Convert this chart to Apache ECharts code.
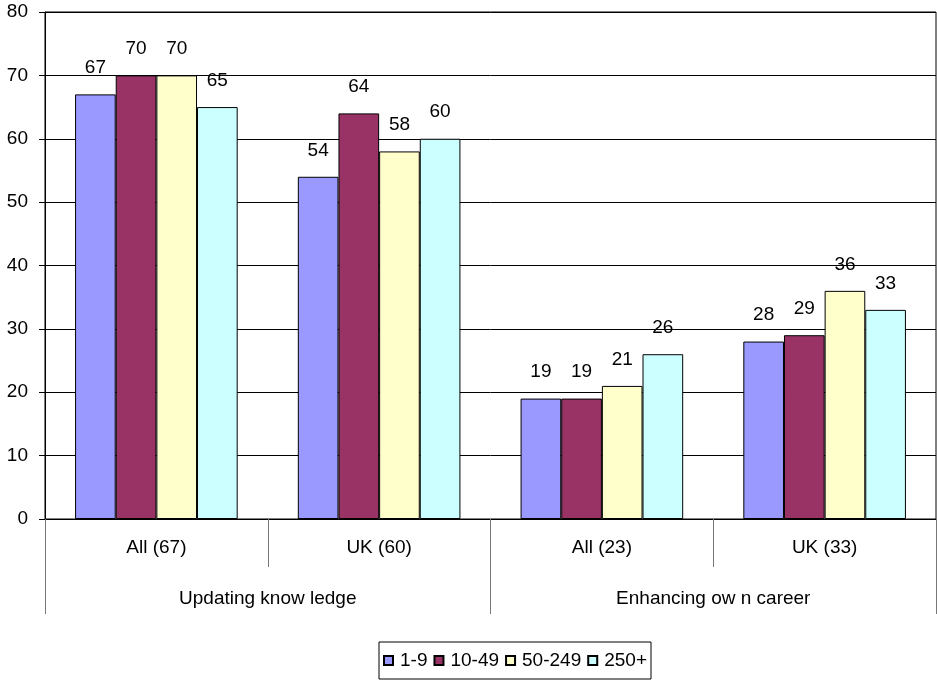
<!DOCTYPE html>
<html>
<head>
<meta charset="utf-8">
<script src="https://cdn.jsdelivr.net/npm/echarts@6/dist/echarts.min.js"></script>
<style>
html,body{margin:0;padding:0;background:#fff;}
#chart{width:937px;height:682px;}
</style>
</head>
<body>
<div id="chart"></div>
<script>
const subCategories = ['All (67)', 'UK (60)', 'All (23)', 'UK (33)'];
const groupCategories = ['Updating know ledge', 'Enhancing ow n career'];
const seriesNames = ['1-9', '10-49', '50-249', '250+'];
const values_1_9 = [67, 54, 19, 28];
const values_10_49 = [70, 64, 19, 29];
const values_50_249 = [70, 58, 21, 36];
const values_250 = [65, 60, 26, 33];
const colors = ['#9999FF', '#993366', '#FFFFCC', '#CCFFFF'];

const allValues = [values_1_9, values_10_49, values_50_249, values_250];
const font = 'Liberation Sans, Arial, sans-serif';
const fs = 19;

const chart = echarts.init(document.getElementById('chart'), null, {renderer: 'canvas'});
chart.setOption({
  animation: false,
  backgroundColor: '#fff',
  textStyle: {fontFamily: font},
  grid: {left: 45, right: 1, top: 12, bottom: 163, show: true, borderColor: '#000', borderWidth: 1, backgroundColor: 'transparent'},
  legend: {
    data: seriesNames,
    left: 379, top: 642,
    icon: 'rect',
    itemWidth: 9, itemHeight: 9, itemGap: 6,
    padding: [9, 4],
    borderColor: '#000', borderWidth: 1,
    textStyle: {fontFamily: font, fontSize: fs, color: '#000', padding: [0, 0, 0, 2]}
  },
  xAxis: [
    {
      type: 'category', data: subCategories, position: 'bottom',
      axisLine: {show: true, lineStyle: {color: '#000'}},
      axisTick: {show: true, length: 48, interval: 0, lineStyle: {color: '#777'}},
      axisLabel: {margin: 19, fontSize: fs, color: '#000', fontFamily: font, interval: 0}
    },
    {
      type: 'category', data: groupCategories, position: 'bottom',
      axisLine: {show: false},
      axisTick: {show: true, length: 95, interval: 0, lineStyle: {color: '#777'}},
      axisLabel: {margin: 70, fontSize: fs, color: '#000', fontFamily: font, interval: 0}
    }
  ],
  yAxis: {
    type: 'value', min: 0, max: 80, interval: 10,
    axisLine: {show: true, lineStyle: {color: '#000'}},
    axisTick: {show: true, length: 6, lineStyle: {color: '#000'}},
    axisLabel: {margin: 17, fontSize: fs, color: '#000', fontFamily: font},
    splitLine: {show: true, lineStyle: {color: '#000', width: 1}}
  },
  series: seriesNames.map((name, i) => ({
    name: name,
    type: 'bar',
    xAxisIndex: 0,
    data: allValues[i],
    barGap: '0%',
    barCategoryGap: '27%',
    itemStyle: {color: colors[i], borderColor: '#000', borderWidth: 1},
    label: {show: true, position: 'top', distance: 17, fontSize: fs, color: '#000', fontFamily: font}
  }))
});
</script>
</body>
</html>
